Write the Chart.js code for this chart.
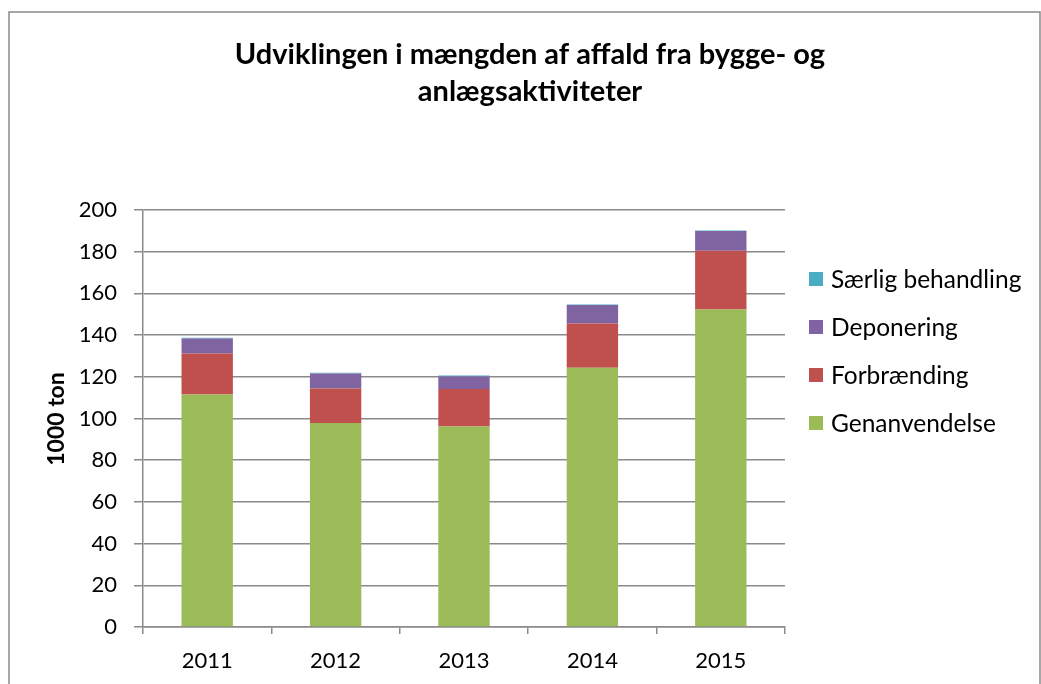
<!DOCTYPE html>
<html>
<head>
<meta charset="utf-8">
<script src="https://cdn.jsdelivr.net/npm/chart.js@4/dist/chart.umd.min.js"></script>
<style>
  html, body { margin: 0; padding: 0; background: #fff; }
  #wrap { width: 1041px; height: 684px; position: relative; }
</style>
</head>
<body>
<div id="wrap"><canvas id="grafico" width="1041" height="684"></canvas></div>
<script>
const years = ['2011', '2012', '2013', '2014', '2015'];
const genanvendelse = [111.5, 97.9, 96.2, 124.3, 152.3];
const forbraending = [19.7, 16.5, 17.9, 21.3, 28.2];
const deponering = [7.2, 7.2, 6.1, 8.8, 9.4];
const saerlig = [0.3, 0.3, 0.4, 0.3, 0.3];
const yTicks = [0, 20, 40, 60, 80, 100, 120, 140, 160, 180, 200];

const titleLines = ['Udviklingen i mængden af affald fra bygge- og', 'anlægsaktiviteter'];
const yTitle = '1000 ton';
const FONT = 'Lato, "Open Sans", sans-serif';

// draws frame, title, y axis title and the legend
const decor = {
  id: 'decor',
  afterDraw(chart) {
    const ctx = chart.ctx;
    ctx.save();
    ctx.strokeStyle = '#8a8a8a';
    ctx.lineWidth = 1.5;
    ctx.strokeRect(9, 12, 1031, 700);

    ctx.fillStyle = '#000';
    ctx.textAlign = 'center';
    ctx.textBaseline = 'middle';
    ctx.font = 'bold 29px ' + FONT;
    ctx.fillText(titleLines[0], 530, 55);
    ctx.fillText(titleLines[1], 530, 92);

    ctx.save();
    ctx.translate(57, 419);
    ctx.rotate(-Math.PI / 2);
    ctx.font = 'bold 23px ' + FONT;
    ctx.fillText(yTitle, 0, 0);
    ctx.restore();

    // legend, reversed order like the original
    const ds = chart.data.datasets.slice().reverse();
    ctx.textAlign = 'left';
    ctx.font = '24.5px ' + FONT;
    ds.forEach((d, i) => {
      const y = 279 + i * 48;
      ctx.fillStyle = d.backgroundColor;
      ctx.fillRect(809, y - 7, 14, 14);
      ctx.fillStyle = '#000';
      ctx.fillText(d.label, 831, y + 1);
    });
    ctx.restore();
  }
};

const ctx = document.getElementById('grafico').getContext('2d');
new Chart(ctx, {
  type: 'bar',
  data: {
    labels: years,
    datasets: [
      { label: 'Genanvendelse', data: genanvendelse, backgroundColor: '#9BBB59' },
      { label: 'Forbrænding', data: forbraending, backgroundColor: '#C0504D' },
      { label: 'Deponering', data: deponering, backgroundColor: '#8064A2' },
      { label: 'Særlig behandling', data: saerlig, backgroundColor: '#4BACC6' }
    ]
  },
  options: {
    responsive: false,
    animation: false,
    layout: { padding: { top: 210, right: 256, bottom: 0, left: 0 } },
    datasets: { bar: { barPercentage: 0.4, categoryPercentage: 1.0 } },
    plugins: {
      legend: { display: false },
      title: { display: false },
      tooltip: { enabled: false }
    },
    scales: {
      x: {
        stacked: true,
        afterFit: s => { s.height = 57; },
        grid: { offset: true, drawOnChartArea: false, drawTicks: true, tickLength: 7, color: '#8a8a8a', lineWidth: 1.5 },
        border: { color: '#8a8a8a', width: 1.5 },
        ticks: { color: '#000', font: { family: FONT, size: 22 }, padding: 14 }
      },
      y: {
        stacked: true,
        min: 0,
        max: 200,
        afterFit: s => { s.width = 143; },
        afterBuildTicks: s => { s.ticks = yTicks.map(v => ({ value: v })); },
        grid: { color: '#8a8a8a', lineWidth: 1.5, tickLength: 9 },
        border: { color: '#8a8a8a', width: 1.5 },
        ticks: { color: '#000', font: { family: FONT, size: 22 }, padding: 17 }
      }
    }
  },
  plugins: [decor]
});
</script>
</body>
</html>
